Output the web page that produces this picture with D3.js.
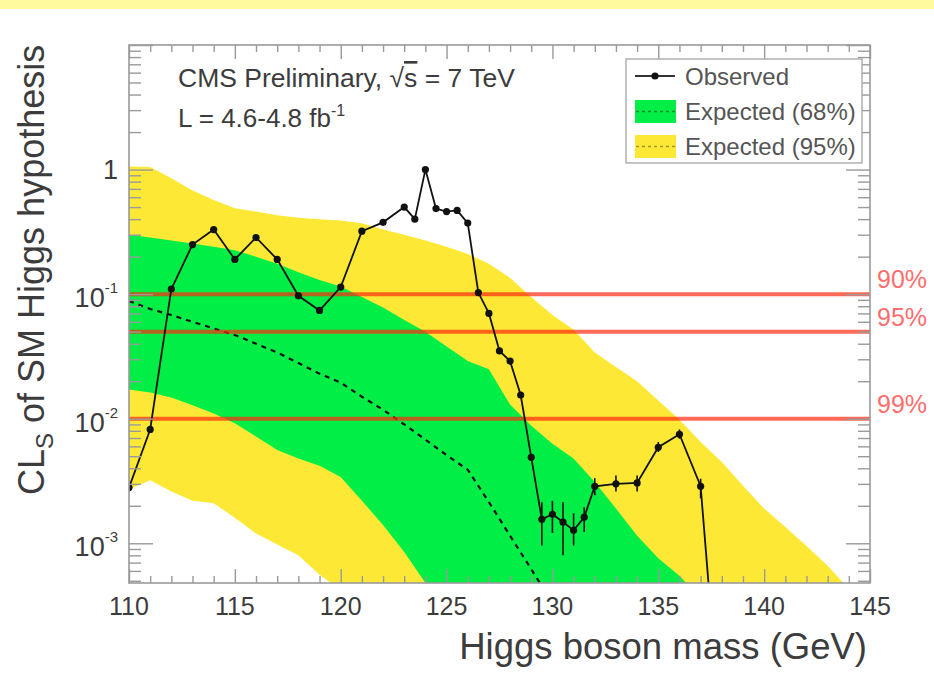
<!DOCTYPE html>
<html>
<head>
<meta charset="utf-8">
<script src="https://cdn.jsdelivr.net/npm/d3@7"></script>
<style>
  body { margin: 0; background: #fff; }
  svg { display: block; font-family: "Liberation Sans", Arial, Helvetica, sans-serif; }
</style>
</head>
<body>
<svg id="chart" width="934" height="688"></svg>
<script>
// Higgs mass hypotheses (GeV) for the expected bands and median
const masses = [110,111,112,113,114,115,116,117,118,119,120,121,122,123,124,125,126,127,
                128,129,130,131,132,133,134,135,136,137,138,139,140,141,142,143,144,145];

// Expected CLs: median and the 68% / 95% band edges
const expMedian = [0.088,0.076,0.068,0.060,0.053,0.047,0.040,0.034,0.028,0.023,0.0195,0.015,0.0118,0.0090,
                   0.0068,0.0051,0.0039,0.00214,0.00115,0.00062,0.00033,0.00019,0.00011,0.00007,0.00005,0.00003,
                   0.00002,0.000015,0.00001,0.000008,0.000006,0.000005,0.000004,0.000003,0.000002,0.000002];
const band68Hi = [0.30,0.285,0.27,0.255,0.24,0.225,0.20,0.175,0.15,0.13,0.115,0.095,0.078,0.062,0.050,0.038,
                  0.029,0.025,0.013,0.0088,0.0063,0.0048,0.0031,0.0019,0.00115,0.00076,0.00055,0.00036,
                  0.00024,0.00016,0.00011,0.00008,0.00006,0.00004,0.00003,0.00002];
const band68Lo = [0.0172,0.0162,0.0148,0.0128,0.011,0.0092,0.0072,0.0056,0.0048,0.0042,0.0034,0.0022,0.0014,
                  0.00085,0.00048,0.0003,0.0002,0.00013,0.00008,0.00005,0.00003,0.00002,0.000015,0.00001,
                  0.000008,0.000006,0.000005,0.000004,0.000003,0.000002,0.000002,0.000001,0.000001,0.000001,
                  0.000001,0.000001];
const band95Hi = [1.06,1.05,0.85,0.68,0.57,0.49,0.46,0.43,0.41,0.40,0.39,0.37,0.33,0.30,0.27,0.24,0.21,0.175,
                  0.135,0.095,0.068,0.052,0.034,0.026,0.020,0.014,0.0098,0.0065,0.0045,0.0029,0.0019,0.00135,
                  0.00095,0.00066,0.00043,0.00028];
const band95Lo = [0.0027,0.0032,0.0026,0.0022,0.0021,0.0016,0.0012,0.00098,0.0008,0.00056,0.00042,0.0003,
                  0.0002,0.00012,0.00008,0.00005,0.00003,0.00002,0.000012,0.000008,0.000005,0.000004,0.000003,
                  0.000002,0.000002,0.000001,0.000001,0.000001,0.000001,0.000001,0.000001,0.000001,0.000001,
                  0.000001,0.000001,0.000001];

// Observed CLs
const obsMass = [110,111,112,113,114,115,116,117,118,119,120,121,122,123,123.5,124,124.5,125,125.5,126,
                 126.5,127,127.5,128,128.5,129,129.5,130,130.5,131,131.5,132,133,134,135,136,137,138];
const obsCLs  = [0.0028,0.0082,0.11,0.25,0.33,0.19,0.285,0.19,0.097,0.074,0.114,0.32,0.377,0.50,0.40,1.0,
                 0.486,0.46,0.47,0.372,0.103,0.070,0.035,0.029,0.0155,0.0049,0.00156,0.00171,0.00148,0.00127,
                 0.00162,0.00287,0.0030,0.00305,0.0059,0.0075,0.00287,0.000023];

// Uncertainty bars on the observed points in the low-CLs region
const errMass = [129.5,130,130.5,131,131.5,132,133,134,135,136,137];
const errLo   = [0.00096,0.00121,0.0008,0.00096,0.00123,0.00243,0.0026,0.0026,0.0054,0.0069,0.0023];
const errHi   = [0.00214,0.00219,0.00214,0.00174,0.00195,0.00333,0.0035,0.0035,0.0065,0.0082,0.0033];

// Confidence-level reference lines
const clValues = [0.1, 0.05, 0.01];
const clLabels = ["90%", "95%", "99%"];

// Axis ticks
const xTickMajor = [110,115,120,125,130,135,140,145];
const yTickLabels = [{v: 1, base: "1", exp: ""}, {v: 0.1, base: "10", exp: "-1"},
                     {v: 0.01, base: "10", exp: "-2"}, {v: 0.001, base: "10", exp: "-3"}];

const legendItems = ["Observed", "Expected (68%)", "Expected (95%)"];

const W = 934, H = 688;
const frame = {left: 129, right: 870, top: 45, bottom: 583};
const textCol = "#3c3c3c", axisCol = "#9a9a9a";
const yellow = "#fde935", green = "#00ee45";

const svg = d3.select("#chart");

// pale banner strip along the top edge
svg.append("rect").attr("x", 0).attr("y", 0).attr("width", W).attr("height", 9).attr("fill", "#fffa9e");

const x = d3.scaleLinear().domain([110, 145]).range([frame.left, frame.right]);
const y = d3.scaleLog().domain([4.8e-4, 10]).range([frame.bottom, frame.top]);

svg.append("defs").append("clipPath").attr("id", "plotClip")
  .append("rect").attr("x", frame.left).attr("y", frame.top)
  .attr("width", frame.right - frame.left).attr("height", frame.bottom - frame.top);

const plot = svg.append("g").attr("clip-path", "url(#plotClip)");

const bandRows = masses.map((m, i) => ({m, hi95: band95Hi[i], lo95: band95Lo[i], hi68: band68Hi[i], lo68: band68Lo[i], med: expMedian[i]}));

plot.append("path").datum(bandRows).attr("fill", yellow)
  .attr("d", d3.area().x(d => x(d.m)).y0(d => y(d.lo95)).y1(d => y(d.hi95)));
plot.append("path").datum(bandRows).attr("fill", green)
  .attr("d", d3.area().x(d => x(d.m)).y0(d => y(d.lo68)).y1(d => y(d.hi68)));

// expected median
plot.append("path").datum(bandRows).attr("fill", "none").attr("stroke", "#111")
  .attr("stroke-width", 2.2).attr("stroke-dasharray", "5,5")
  .attr("d", d3.line().x(d => x(d.m)).y(d => y(d.med)));

// CL reference lines
plot.selectAll("line.cl").data(clValues).join("line").attr("class", "cl")
  .attr("x1", frame.left).attr("x2", frame.right)
  .attr("y1", d => y(d)).attr("y2", d => y(d))
  .attr("stroke", "#ff2a10").attr("stroke-opacity", 0.7).attr("stroke-width", 4);

// observed
const obsRows = obsMass.map((m, i) => ({m, v: obsCLs[i]}));
plot.append("path").datum(obsRows).attr("fill", "none").attr("stroke", "#111").attr("stroke-width", 1.8)
  .attr("d", d3.line().x(d => x(d.m)).y(d => y(d.v)));
plot.selectAll("line.err").data(errMass.map((m, i) => ({m, lo: errLo[i], hi: errHi[i]}))).join("line")
  .attr("class", "err").attr("x1", d => x(d.m)).attr("x2", d => x(d.m))
  .attr("y1", d => y(d.lo)).attr("y2", d => y(d.hi)).attr("stroke", "#111").attr("stroke-width", 1.6);
plot.selectAll("circle.obs").data(obsRows).join("circle").attr("class", "obs")
  .attr("cx", d => x(d.m)).attr("cy", d => y(d.v)).attr("r", 3.6).attr("fill", "#111");

// axes: inward ticks on all four sides
const xMinor = d3.range(110, 146, 1);
const axes = svg.append("g");
function styleAxis(g) { g.select(".domain").remove(); g.selectAll("line").attr("stroke", axisCol).attr("stroke-width", 1.4); }

const isMajX = v => xTickMajor.includes(v);
axes.append("g").attr("transform", `translate(0,${frame.bottom})`)
  .call(d3.axisBottom(x).tickValues(xMinor).tickFormat("").tickSizeInner(-7).tickSizeOuter(0))
  .call(styleAxis).selectAll(".tick line").attr("y2", d => isMajX(d) ? -14 : -7);
axes.append("g").attr("transform", `translate(0,${frame.top})`)
  .call(d3.axisTop(x).tickValues(xMinor).tickFormat("").tickSizeInner(-7).tickSizeOuter(0))
  .call(styleAxis).selectAll(".tick line").attr("y2", d => isMajX(d) ? 14 : 7);

const yTicks = y.ticks();
const isMajY = v => Math.abs(Math.log10(v) - Math.round(Math.log10(v))) < 1e-6;
axes.append("g").attr("transform", `translate(${frame.left},0)`)
  .call(d3.axisLeft(y).tickValues(yTicks).tickFormat("").tickSizeInner(-12).tickSizeOuter(0))
  .call(styleAxis).selectAll(".tick line").attr("x2", d => isMajY(d) ? 24 : 12);
axes.append("g").attr("transform", `translate(${frame.right},0)`)
  .call(d3.axisRight(y).tickValues(yTicks).tickFormat("").tickSizeInner(-12).tickSizeOuter(0))
  .call(styleAxis).selectAll(".tick line").attr("x2", d => isMajY(d) ? -24 : -12);

svg.append("rect").attr("x", frame.left).attr("y", frame.top)
  .attr("width", frame.right - frame.left).attr("height", frame.bottom - frame.top)
  .attr("fill", "none").attr("stroke", axisCol).attr("stroke-width", 1.6);

// x tick labels
svg.append("g").selectAll("text").data(xTickMajor).join("text")
  .attr("x", d => x(d)).attr("y", 615).attr("text-anchor", "middle")
  .attr("font-size", 25).attr("fill", textCol).text(d => d);

// y tick labels with superscript exponents
const yl = svg.append("g").selectAll("text").data(yTickLabels).join("text")
  .attr("x", 118).attr("y", d => y(d.v) + (d.exp ? 13 : 9)).attr("text-anchor", "end")
  .attr("font-size", 27).attr("fill", textCol);
yl.append("tspan").text(d => d.base);
yl.filter(d => d.exp).append("tspan").attr("dy", -14).attr("font-size", 15).text(d => d.exp);

// axis titles
svg.append("text").attr("x", 867).attr("y", 659).attr("text-anchor", "end")
  .attr("font-size", 36.5).attr("fill", textCol).text("Higgs boson mass (GeV)");
const yt = svg.append("text").attr("transform", "translate(44,495) rotate(-90)").attr("text-anchor", "start")
  .attr("font-size", 36).attr("fill", textCol);
yt.append("tspan").text("CL");
yt.append("tspan").attr("dy", 9).attr("font-size", 24).text("S");
yt.append("tspan").attr("dy", -9).text(" of SM Higgs hypothesis");

// CL labels to the right of the frame
svg.append("g").selectAll("text").data(clValues).join("text")
  .attr("x", 877).attr("y", d => y(d) - 6).attr("font-size", 25).attr("fill", "#ff6e6e")
  .text((d, i) => clLabels[i]);

// experiment / luminosity text
const t1 = svg.append("text").attr("x", 178).attr("y", 87).attr("font-size", 26.5).attr("fill", textCol);
t1.append("tspan").text("CMS Preliminary, \u221A");
t1.append("tspan").attr("text-decoration", "overline").text("s");
t1.append("tspan").text(" = 7 TeV");
const t2 = svg.append("text").attr("x", 178).attr("y", 127).attr("font-size", 26).attr("fill", textCol);
t2.append("tspan").text("L = 4.6-4.8 fb");
t2.append("tspan").attr("dy", -11).attr("font-size", 16).text("-1");

// legend
const lg = svg.append("g");
lg.append("rect").attr("x", 626).attr("y", 59).attr("width", 236).attr("height", 104)
  .attr("fill", "#fff").attr("stroke", "#aaa").attr("stroke-width", 1.4);
const rowY = [76, 111.5, 146.5];
lg.append("line").attr("x1", 635).attr("x2", 675).attr("y1", rowY[0]).attr("y2", rowY[0])
  .attr("stroke", "#333").attr("stroke-width", 1.8);
lg.append("circle").attr("cx", 655).attr("cy", rowY[0]).attr("r", 3.6).attr("fill", "#111");
[[green, "#1a8a30"], [yellow, "#a09a20"]].forEach(([fill, dash], i) => {
  lg.append("rect").attr("x", 635).attr("y", rowY[i + 1] - 11.5).attr("width", 41).attr("height", 23).attr("fill", fill);
  lg.append("line").attr("x1", 636).attr("x2", 675).attr("y1", rowY[i + 1]).attr("y2", rowY[i + 1])
    .attr("stroke", dash).attr("stroke-width", 1.6).attr("stroke-dasharray", "3,3");
});
lg.selectAll("text").data(legendItems).join("text")
  .attr("x", 685).attr("y", (d, i) => rowY[i] + 8.5).attr("font-size", 24).attr("fill", "#555").text(d => d);
</script>
</body>
</html>
